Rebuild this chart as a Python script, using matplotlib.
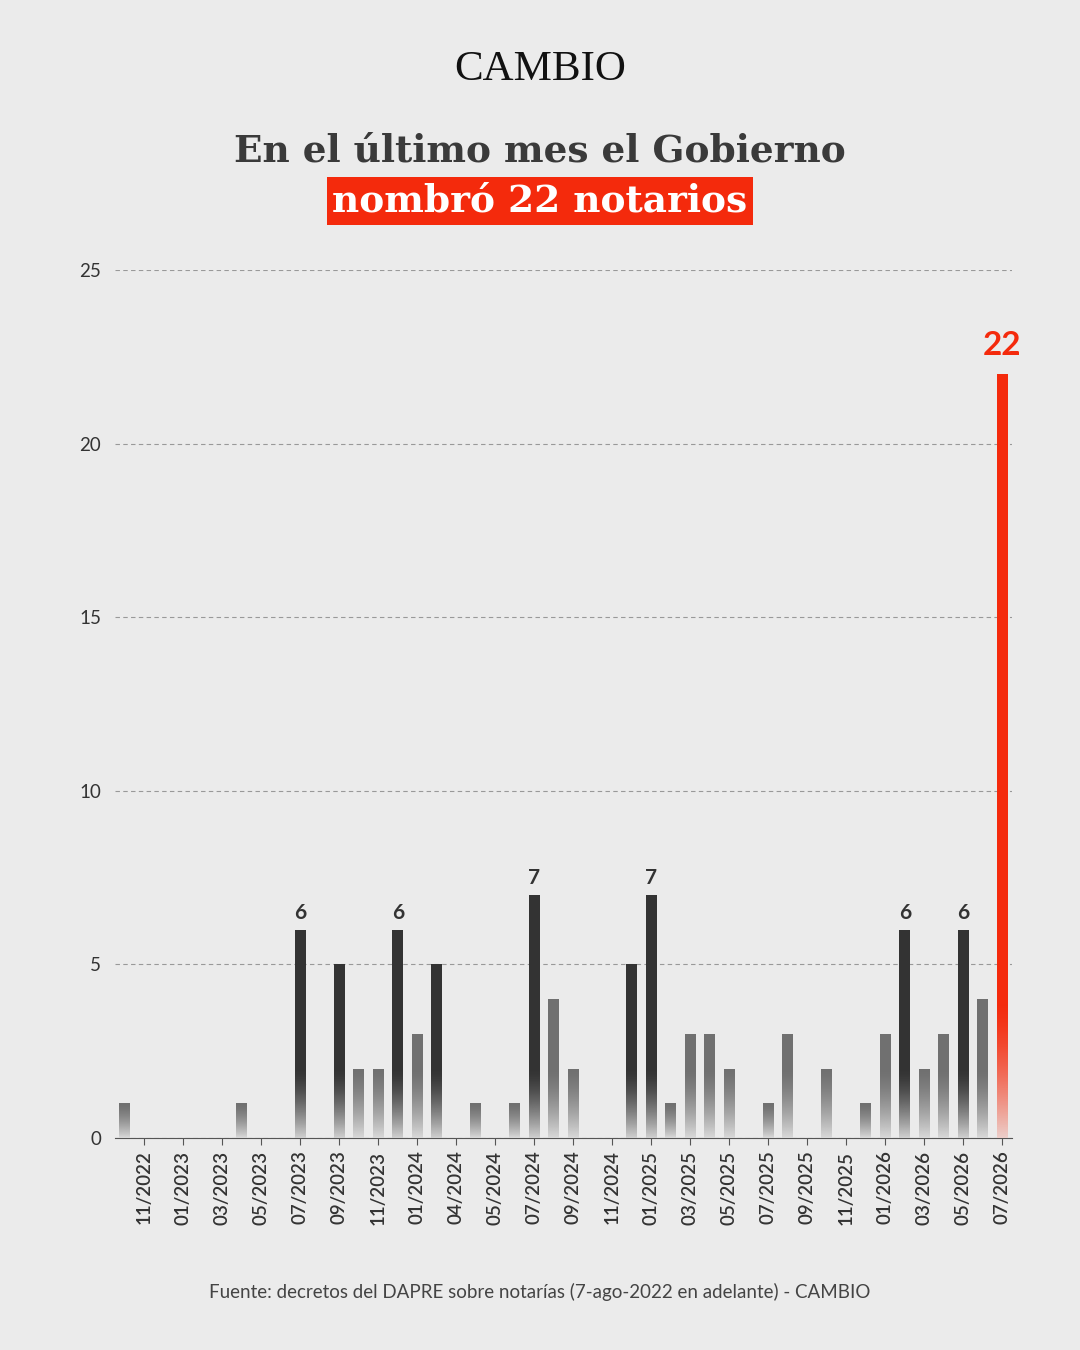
import matplotlib
matplotlib.use("Agg")
import matplotlib.pyplot as plt
import numpy as np

# bar values by position (46 slots, last one is the latest month)
values = [1, 0, 0, 0, 0, 0, 1, 0, 0, 6, 0, 5, 2, 2, 6, 3, 5, 0, 1, 0, 1, 7, 4, 2,
          0, 0, 5, 7, 1, 3, 3, 2, 0, 1, 3, 0, 2, 0, 1, 3, 6, 2, 3, 6, 4, 22]
tick_pos = list(range(1, 46, 2))
tick_labels = ["11/2022", "01/2023", "03/2023", "05/2023", "07/2023", "09/2023",
               "11/2023", "01/2024", "04/2024", "05/2024", "07/2024", "09/2024",
               "11/2024", "01/2025", "03/2025", "05/2025", "07/2025", "09/2025",
               "11/2025", "01/2026", "03/2026", "05/2026", "07/2026"]
labelled = [6, 7]

BG = "#ebebeb"
RED = "#f42a0c"
fig = plt.figure(figsize=(10.8, 13.5), dpi=100, facecolor=BG)
ax = fig.add_axes([0.1065, 0.157, 0.8306, 0.643], facecolor=BG)

for i, v in enumerate(values):
    if v == 0:
        continue
    last = i == len(values) - 1
    col = RED if last else ("#333333" if v >= 5 else "#707070")
    bars = ax.bar(i, v, width=0.55, color=col, zorder=3)
    # fade toward the baseline
    fade = min(4.0 if last else 2.0, v)
    rgba = np.zeros((64, 1, 4))
    rgba[..., :3] = matplotlib.colors.to_rgb(BG)
    rgba[:, 0, 3] = np.linspace(0.9, 0, 64) ** 1.5
    im = ax.imshow(rgba, extent=(i - 0.3, i + 0.3, 0, fade), origin="lower", aspect="auto", zorder=4)
    im.set_clip_path(bars.patches[0])
    if last:
        ax.text(i, v + 0.4, str(v), ha="center", va="bottom", color=RED,
                fontsize=24, fontweight="bold", family="Lato")
    elif v in labelled:
        ax.text(i, v + 0.2, str(v), ha="center", va="bottom", color="#333333",
                fontsize=15, fontweight="bold", family="Lato")

ax.set_xlim(-0.5, 45.5)
ax.set_ylim(0, 25)
ax.set_yticks([0, 5, 10, 15, 20, 25])
ax.grid(axis="y", ls=(0, (4, 3)), color="#999999", lw=0.8, zorder=1)
ax.set_xticks(tick_pos)
ax.set_xticklabels(tick_labels, rotation=90, fontsize=13.5, family="Lato",
                   color="#333333", fontweight="semibold")
ax.tick_params(axis="x", length=5, color="#555555", pad=4)
ax.tick_params(axis="y", length=0, labelsize=13.5, labelcolor="#333333", pad=10)
for lab in ax.get_yticklabels():
    lab.set_family("Lato")
for s in ["top", "right", "left"]:
    ax.spines[s].set_visible(False)
ax.spines["bottom"].set_color("#555555")
ax.set_axisbelow(True)

fig.text(0.5, 0.948, "CAMBIO", ha="center", va="center", fontsize=31,
         family="Liberation Serif", color="#111111")
fig.text(0.5, 0.888, "En el último mes el Gobierno", ha="center", va="center",
         fontsize=27, fontweight="bold", family="DejaVu Serif", color="#3a3a3a")
fig.text(0.5, 0.851, "nombró 22 notarios", ha="center", va="center",
         fontsize=27, fontweight="bold", family="DejaVu Serif", color="white",
         bbox=dict(boxstyle="square,pad=0.15", fc=RED, ec="none"))
fig.text(0.5, 0.043, "Fuente: decretos del DAPRE sobre notarías (7-ago-2022 en adelante) - CAMBIO",
         ha="center", va="center", fontsize=13.5, family="Lato", color="#444444")

fig.savefig("out.png", dpi=100, facecolor=BG)
